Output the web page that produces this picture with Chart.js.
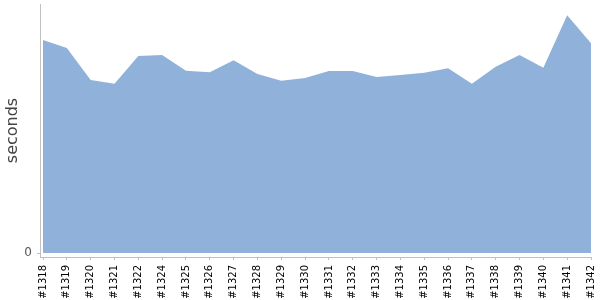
<!DOCTYPE html>
<html>
<head>
<meta charset="utf-8">
<script src="https://cdn.jsdelivr.net/npm/chart.js@4"></script>
<style>
html,body{margin:0;padding:0;background:#fff;}
#wrap{width:600px;height:300px;}
</style>
</head>
<body>
<div id="wrap"><canvas id="c" width="600" height="300"></canvas></div>
<script>
const buildLabels = ['#1318','#1319','#1320','#1321','#1322','#1324','#1325','#1326','#1327','#1328','#1329','#1330','#1331','#1332','#1333','#1334','#1335','#1336','#1337','#1338','#1339','#1340','#1341','#1342'];
const durations = [213,205,173,169.3,197,198,182.3,180.7,192.7,179,172.3,175,182,182,176,178,180.3,184.7,169.3,186.3,198,185.3,237.7,209.7];
const yTickValues = [0];
const yTickLabels = ['0'];

const points = durations.map((v, i) => ({x: i, y: v}));

function zeroPad(s) { s.paddingLeft = 0; s.paddingRight = 0; s.paddingTop = 0; s.paddingBottom = 0; }

new Chart(document.getElementById('c'), {
  type: 'line',
  data: {
    datasets: [{
      data: points,
      fill: 'origin',
      backgroundColor: '#8fb1da',
      borderWidth: 0,
      borderColor: 'rgba(0,0,0,0)',
      pointRadius: 0,
      tension: 0
    }]
  },
  options: {
    responsive: false,
    animation: false,
    layout: {padding: {top: 4, right: 9, bottom: 0, left: 0}},
    plugins: {legend: {display: false}, tooltip: {enabled: false}},
    scales: {
      x: {
        type: 'linear',
        min: -0.126,
        max: buildLabels.length - 1,
        afterFit: s => { s.height = 43; zeroPad(s); },
        border: {display: true, color: '#c0c0c0', width: 1},
        grid: {display: true, drawOnChartArea: false, drawTicks: true, tickLength: 3, color: '#c0c0c0'},
        ticks: {
          stepSize: 1,
          includeBounds: false,
          autoSkip: false,
          maxRotation: 90,
          minRotation: 90,
          padding: 5,
          color: '#000',
          font: {family: 'DejaVu Sans', size: 10},
          callback: v => (Number.isInteger(v) ? buildLabels[v] : '')
        }
      },
      y: {
        type: 'linear',
        min: -4,
        max: 249,
        afterFit: s => { s.width = 40; zeroPad(s); },
        afterBuildTicks: s => { s.ticks = yTickValues.map(v => ({value: v})); },
        border: {display: true, color: '#c0c0c0', width: 1},
        grid: {display: true, drawOnChartArea: false, drawTicks: true, tickLength: 3, color: '#c0c0c0'},
        ticks: {
          padding: 5,
          color: '#555',
          font: {family: 'DejaVu Sans', size: 12},
          callback: (v) => { const i = yTickValues.indexOf(v); return i >= 0 ? yTickLabels[i] : ''; }
        },
        title: {
          display: true,
          text: 'seconds',
          color: '#444',
          font: {family: 'DejaVu Sans', size: 16},
          padding: {top: 3, bottom: 0}
        }
      }
    }
  }
});
</script>
</body>
</html>
